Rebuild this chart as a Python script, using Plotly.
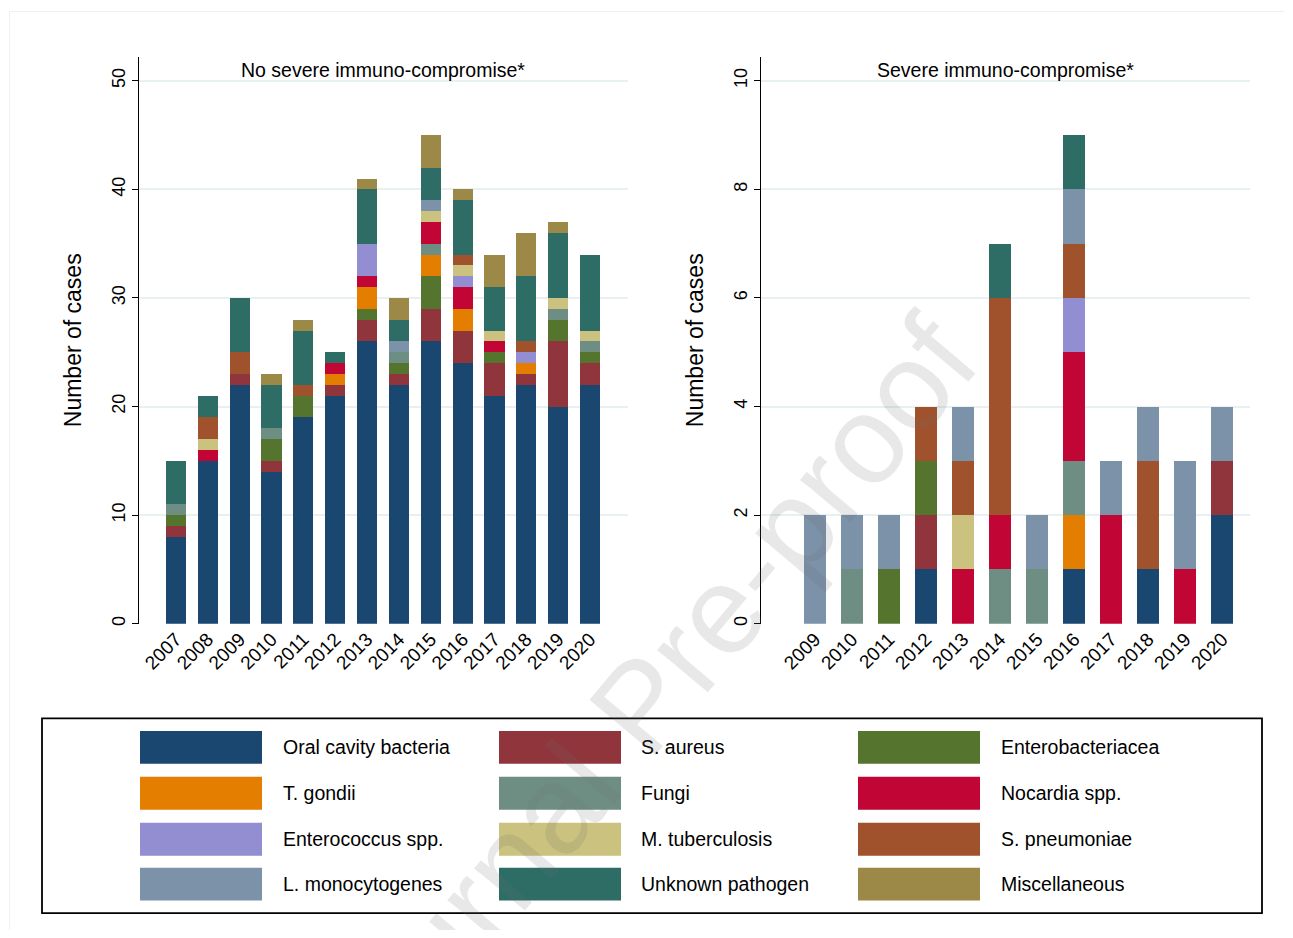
import plotly.graph_objects as go

# ---------------- data ----------------
series_names = ["Oral cavity bacteria", "S. aureus", "Enterobacteriacea",
                "T. gondii", "Fungi", "Nocardia spp.",
                "Enterococcus spp.", "M. tuberculosis", "S. pneumoniae",
                "L. monocytogenes", "Unknown pathogen", "Miscellaneous"]
series_colors = ["#1a476f", "#90353b", "#55752f", "#e37e00", "#6e8e84", "#c10534",
                 "#938dd2", "#cac27e", "#a0522d", "#7b92a8", "#2d6d66", "#9c8847"]

years_left = ["2007", "2008", "2009", "2010", "2011", "2012", "2013",
              "2014", "2015", "2016", "2017", "2018", "2019", "2020"]
oral_left      = [8, 15, 22, 14, 19, 21, 26, 22, 26, 24, 21, 22, 20, 22]
aureus_left    = [1, 0, 1, 1, 0, 1, 2, 1, 3, 3, 3, 1, 6, 2]
entero_left    = [1, 0, 0, 2, 2, 0, 1, 1, 3, 0, 1, 0, 2, 1]
tgondii_left   = [0, 0, 0, 0, 0, 1, 2, 0, 2, 2, 0, 1, 0, 0]
fungi_left     = [1, 0, 0, 1, 0, 0, 0, 1, 1, 0, 0, 0, 1, 1]
nocardia_left  = [0, 1, 0, 0, 0, 1, 1, 0, 2, 2, 1, 0, 0, 0]
enterococ_left = [0, 0, 0, 0, 0, 0, 3, 0, 0, 1, 0, 1, 0, 0]
mtb_left       = [0, 1, 0, 0, 0, 0, 0, 0, 1, 1, 1, 0, 1, 1]
spneu_left     = [0, 2, 2, 0, 1, 0, 0, 0, 0, 1, 0, 1, 0, 0]
lmono_left     = [0, 0, 0, 0, 0, 0, 0, 1, 1, 0, 0, 0, 0, 0]
unknown_left   = [4, 2, 5, 4, 5, 1, 5, 2, 3, 5, 4, 6, 6, 7]
misc_left      = [0, 0, 0, 1, 1, 0, 1, 2, 3, 1, 3, 4, 1, 0]

years_right = ["2009", "2010", "2011", "2012", "2013", "2014",
               "2015", "2016", "2017", "2018", "2019", "2020"]
oral_right      = [0, 0, 0, 1, 0, 0, 0, 1, 0, 1, 0, 2]
aureus_right    = [0, 0, 0, 1, 0, 0, 0, 0, 0, 0, 0, 1]
entero_right    = [0, 0, 1, 1, 0, 0, 0, 0, 0, 0, 0, 0]
tgondii_right   = [0, 0, 0, 0, 0, 0, 0, 1, 0, 0, 0, 0]
fungi_right     = [0, 1, 0, 0, 0, 1, 1, 1, 0, 0, 0, 0]
nocardia_right  = [0, 0, 0, 0, 1, 1, 0, 2, 2, 0, 1, 0]
enterococ_right = [0, 0, 0, 0, 0, 0, 0, 1, 0, 0, 0, 0]
mtb_right       = [0, 0, 0, 0, 1, 0, 0, 0, 0, 0, 0, 0]
spneu_right     = [0, 0, 0, 1, 1, 4, 0, 1, 0, 2, 0, 0]
lmono_right     = [2, 1, 1, 0, 1, 0, 1, 1, 1, 1, 2, 1]
unknown_right   = [0, 0, 0, 0, 0, 1, 0, 1, 0, 0, 0, 0]
misc_right      = [0, 0, 0, 0, 0, 0, 0, 0, 0, 0, 0, 0]

left_values = [oral_left, aureus_left, entero_left, tgondii_left, fungi_left,
               nocardia_left, enterococ_left, mtb_left, spneu_left, lmono_left,
               unknown_left, misc_left]
right_values = [oral_right, aureus_right, entero_right, tgondii_right, fungi_right,
                nocardia_right, enterococ_right, mtb_right, spneu_right, lmono_right,
                unknown_right, misc_right]

left_title = "No severe immuno-compromise*"
right_title = "Severe immuno-compromise*"
y_title = "Number of cases"

# ---------------- geometry helpers ----------------
W, H = 1277, 922
OFFX = 8   # default body margin of the page
OFFY = 6


def px(X):
    return (X - OFFX) / W


def py(Y):
    return 1 - (Y - OFFY) / H


FONT = "Liberation Sans, Arial, sans-serif"

fig = go.Figure()

for name, color, vals in zip(series_names, series_colors, left_values):
    fig.add_trace(go.Bar(x=years_left, y=vals, name=name, marker_color=color,
                         marker_line_width=0, width=0.63, xaxis="x", yaxis="y",
                         showlegend=False))
for name, color, vals in zip(series_names, series_colors, right_values):
    fig.add_trace(go.Bar(x=years_right, y=vals, name=name, marker_color=color,
                         marker_line_width=0, width=0.6, xaxis="x2", yaxis="y2",
                         showlegend=False))

grid = "#e8f0f2"
common_y = dict(showline=True, linecolor="black", linewidth=1.3, ticks="outside",
                ticklen=6, tickwidth=1.3, tickcolor="black", showgrid=True,
                gridcolor=grid, gridwidth=1.5, zeroline=False, tickangle=-90,
                tickfont=dict(family=FONT, size=18, color="black"),
                title=dict(text=y_title, font=dict(family=FONT, size=23, color="black"),
                           standoff=20))
common_x = dict(type="category", showline=False, showgrid=False, ticks="",
                tickangle=-45, tickfont=dict(family=FONT, size=19, color="black"))

fig.update_layout(
    width=W, height=H, autosize=False,
    margin=dict(l=0, r=0, t=0, b=0),
    paper_bgcolor="white", plot_bgcolor="white",
    barmode="stack", bargap=0.37,
    font=dict(family=FONT, color="black"),
    xaxis=dict(domain=[px(139), px(628)], range=[-1.16, 14.19], anchor="y", **common_x),
    yaxis=dict(domain=[py(623), py(55)], range=[0, 52.2], tickvals=[0, 10, 20, 30, 40, 50],
               anchor="x", **common_y),
    xaxis2=dict(domain=[px(761), px(1250)], range=[-1.46, 11.75], anchor="y2", **common_x),
    yaxis2=dict(domain=[py(623), py(55)], range=[0, 10.44], tickvals=[0, 2, 4, 6, 8, 10],
                anchor="x2", **common_y),
)

annotations = [
    dict(text=left_title, x=px(383), y=py(68), xref="paper", yref="paper",
         showarrow=False, font=dict(family=FONT, size=19.5, color="black"),
         xanchor="center", yanchor="middle"),
    dict(text=right_title, x=px(1005), y=py(68), xref="paper", yref="paper",
         showarrow=False, font=dict(family=FONT, size=19.5, color="black"),
         xanchor="center", yanchor="middle"),
]
shapes = [
    dict(type="rect", xref="paper", yref="paper", x0=px(42), x1=px(1262),
         y0=py(913), y1=py(718), line=dict(color="black", width=1.8)),
    dict(type="line", xref="paper", yref="paper", x0=px(9.5), x1=px(1284),
         y0=py(9.5), y1=py(9.5), line=dict(color="#f0f0f0", width=1)),
    dict(type="line", xref="paper", yref="paper", x0=px(9.5), x1=px(9.5),
         y0=py(9.5), y1=py(937), line=dict(color="#f0f0f0", width=1)),
]

# manual legend: 3 columns x 4 rows
col_swatch_x = [140, 499, 858]
col_text_x = [281, 639, 999]
row_y = [747, 793, 839, 884]
for i, (name, color) in enumerate(zip(series_names, series_colors)):
    r, c = divmod(i, 3)
    sx = col_swatch_x[c]
    cy = row_y[r]
    shapes.append(dict(type="rect", xref="paper", yref="paper",
                       x0=px(sx), x1=px(sx + 122), y0=py(cy + 16.5), y1=py(cy - 16.5),
                       fillcolor=color, line=dict(width=0)))
    annotations.append(dict(text=name, x=px(col_text_x[c]), y=py(cy), xref="paper",
                            yref="paper", showarrow=False, xanchor="left", yanchor="middle",
                            font=dict(family=FONT, size=19.5, color="black")))

# watermark
annotations.append(dict(text="Journal Pre-proof", x=px(640), y=py(705), xref="paper",
                        yref="paper", showarrow=False, textangle=-50,
                        font=dict(family=FONT, size=125, color="rgba(110,110,110,0.16)"),
                        xanchor="center", yanchor="middle"))

fig.update_layout(annotations=annotations, shapes=shapes)

fig.write_html("out.html")
